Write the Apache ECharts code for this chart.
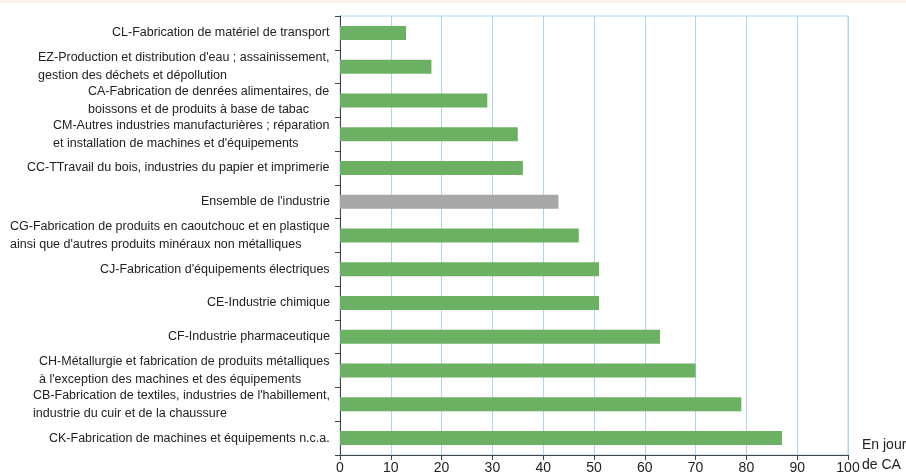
<!DOCTYPE html>
<html>
<head>
<meta charset="utf-8">
<script src="https://cdn.jsdelivr.net/npm/echarts@6/dist/echarts.min.js"></script>
<style>
html,body{margin:0;padding:0;background:#fff;}
#main{width:906px;height:475px;}
</style>
</head>
<body>
<div id="main"></div>
<script>
var categories = [
  "CL-Fabrication de matériel de transport",
  "EZ-Production et distribution d'eau ; assainissement,\ngestion des déchets et dépollution",
  "CA-Fabrication de denrées alimentaires, de\nboissons et de produits à base de tabac",
  "CM-Autres industries manufacturières ; réparation\net installation de machines et d'équipements",
  "CC-TTravail du bois, industries du papier et imprimerie",
  "Ensemble de l'industrie",
  "CG-Fabrication de produits en caoutchouc et en plastique\nainsi que d'autres produits minéraux non métalliques",
  "CJ-Fabrication d'équipements électriques",
  "CE-Industrie chimique",
  "CF-Industrie pharmaceutique",
  "CH-Métallurgie et fabrication de produits métalliques\nà l'exception des machines et des équipements",
  "CB-Fabrication de textiles, industries de l'habillement,\nindustrie du cuir et de la chaussure",
  "CK-Fabrication de machines et équipements n.c.a."
];
var values = [13, 18, 29, 35, 36, 43, 47, 51, 51, 63, 70, 79, 87];
var highlightCategory = "Ensemble de l'industrie";
var xTicks = [0, 10, 20, 30, 40, 50, 60, 70, 80, 90, 100];
var axisUnit = "En jour\nde CA";

var FONT = "Liberation Sans, Arial, sans-serif";
var LABEL_SIZE = 12.5;
var ctx = document.createElement('canvas').getContext('2d');
ctx.font = LABEL_SIZE + "px " + FONT;
var rich = {};
categories.forEach(function (c, i) {
  var w = 0;
  c.split('\n').forEach(function (l) { w = Math.max(w, ctx.measureText(l).width); });
  rich['r' + i] = { width: Math.ceil(w) + 1, align: 'left', fontSize: LABEL_SIZE, fontFamily: FONT, color: '#222', lineHeight: 18 };
});

var chart = echarts.init(document.getElementById('main'));
chart.setOption({
  animation: false,
  graphic: [{ type: 'rect', left: 0, top: 0, shape: { width: 906, height: 3 }, style: { fill: '#fdf2ea' }, silent: true }],
  grid: { left: 340, right: 58, top: 16, bottom: 20, containLabel: false, outerBoundsMode: 'none', show: true, borderColor: '#a9d6f0', borderWidth: 1, backgroundColor: 'transparent' },
  xAxis: {
    type: 'value', min: xTicks[0], max: xTicks[xTicks.length - 1], interval: 10,
    name: axisUnit, nameLocation: 'end', nameGap: 14, nameMoveOverlap: false,
    nameTextStyle: { fontSize: 14, fontFamily: FONT, color: '#222', lineHeight: 20, align: 'left', verticalAlign: 'middle', padding: [5, 0, 0, 0] },
    axisLine: { show: true, lineStyle: { color: '#444', width: 1 } },
    axisTick: { show: true, length: 5, lineStyle: { color: '#444' } },
    axisLabel: { fontSize: 14, fontFamily: FONT, color: '#222', margin: 6 },
    splitLine: { show: true, lineStyle: { color: '#a9d6f0', width: 1 } }
  },
  yAxis: {
    type: 'category', data: categories, inverse: true,
    axisLine: { show: true, lineStyle: { color: '#444', width: 1 } },
    axisTick: { show: true, length: 5, lineStyle: { color: '#444' } },
    axisLabel: {
      margin: 9, align: 'right', interval: 0,
      formatter: function (v, i) {
        var idx = categories.indexOf(v);
        return v.split('\n').map(function (l) { return '{r' + idx + '|' + l + '}'; }).join('\n');
      },
      rich: rich
    },
    splitLine: { show: false }
  },
  series: [{
    type: 'bar', barWidth: 14,
    data: values.map(function (v, i) {
      return { value: v, itemStyle: { color: categories[i] === highlightCategory ? '#a7a7a7' : '#6cb063' } };
    })
  }]
});
</script>
</body>
</html>
